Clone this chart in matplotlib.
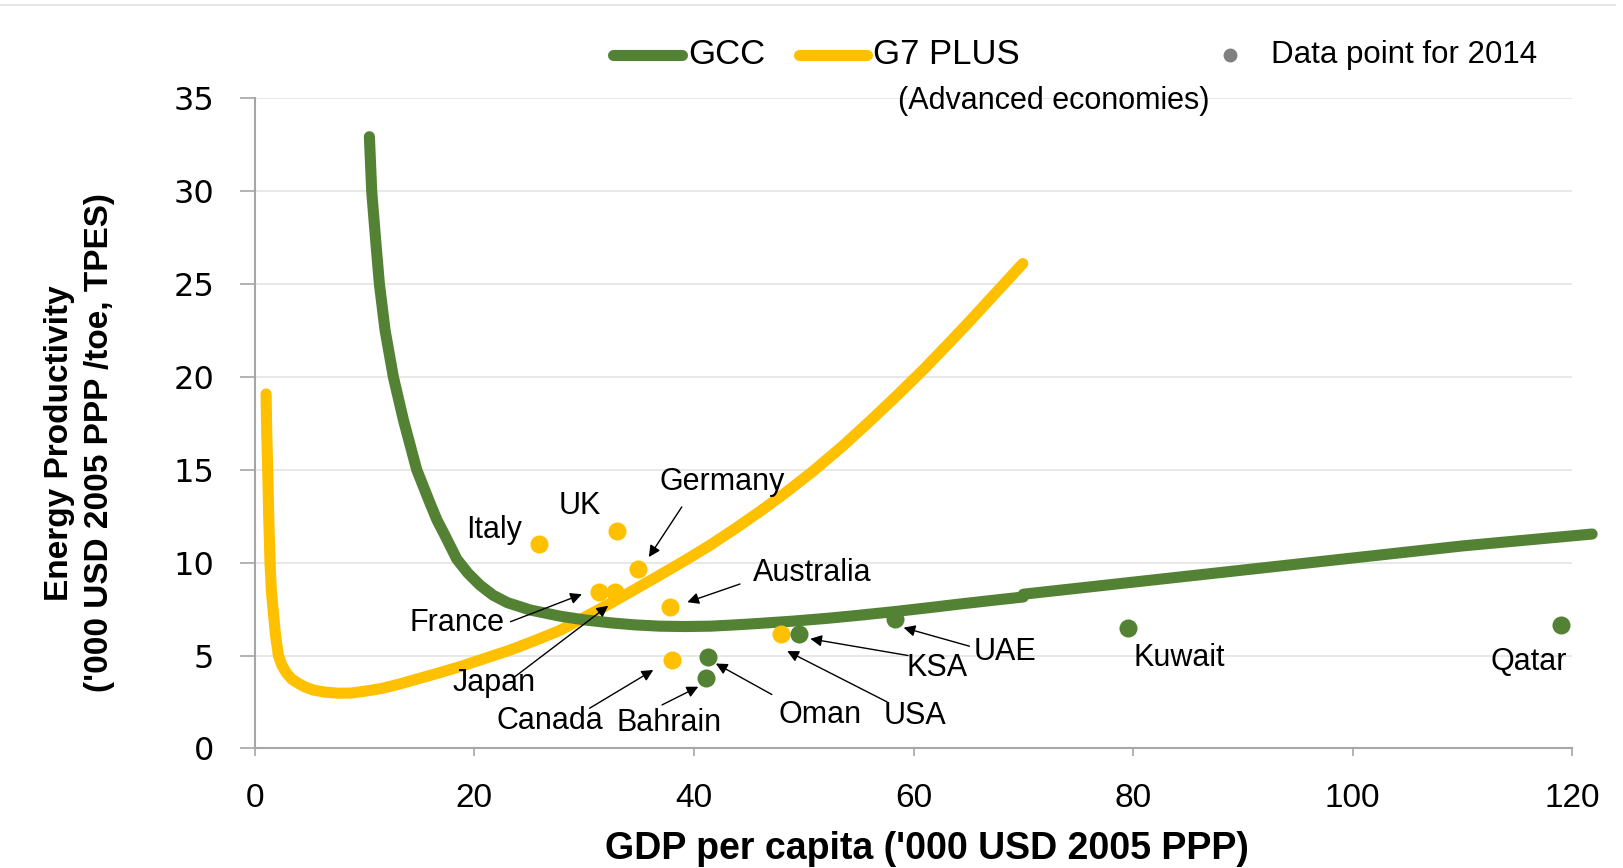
"""
Energy productivity vs GDP per capita, GCC vs G7 PLUS.
"""
import matplotlib
matplotlib.use("Agg")
import matplotlib.pyplot as plt
from matplotlib.lines import Line2D

# fitted curves
g7_curve_x = [1.04, 1.1, 1.19, 1.28, 1.4, 1.52, 1.71, 1.9, 2.16, 2.5, 2.92, 3.4, 3.98,
              4.6, 5.35, 6.4, 7.63, 8.8, 10.05, 11.5, 13.1, 14.6, 16.4, 18.7, 21.0,
              23.3, 25.5, 27.8, 30.0, 32.4, 34.6, 36.9, 39.2, 41.5, 43.8, 46.0, 48.2,
              50.8, 53.5, 56.0, 58.5, 61.0, 63.2, 65.2, 67.3, 69.95]
g7_curve_y = [19.08, 17.0, 15.0, 12.5, 10.0, 8.5, 7.27, 6.1, 5.0, 4.45, 4.04, 3.72, 3.5,
              3.3, 3.14, 3.03, 2.97, 2.98, 3.08, 3.22, 3.45, 3.7, 4.0, 4.4, 4.85,
              5.3, 5.8, 6.35, 7.05, 7.81, 8.55, 9.33, 10.12, 10.95, 11.85, 12.75, 13.7,
              14.9, 16.25, 17.6, 19.0, 20.45, 21.8, 23.05, 24.4, 26.1]

gcc_curve_x = [10.45, 10.66, 11.0, 11.36, 11.88, 12.63, 13.54, 14.76, 15.97, 16.6, 17.3,
               18.4, 19.4, 20.5, 21.7, 23.0, 25.1, 27.8, 30.0, 32.4, 34.6, 36.9, 39.2,
               41.5, 43.8, 46.0, 49.0, 52.1, 55.1, 58.2, 61.2, 64.2, 67.2, 70.0]
gcc_curve_y = [32.93, 30.0, 27.5, 25.0, 22.5, 20.0, 17.7, 15.0, 13.2, 12.3, 11.5,
               10.2, 9.45, 8.8, 8.25, 7.85, 7.45, 7.12, 6.92, 6.76, 6.65, 6.58, 6.56,
               6.58, 6.65, 6.73, 6.85, 7.0, 7.17, 7.36, 7.56, 7.77, 7.97, 8.15]
# extension of the GCC curve beyond 70
gcc_ext_x = [70.0, 80.0, 90.0, 100.0, 110.0, 121.8]
gcc_ext_y = [8.3, 8.95, 9.6, 10.25, 10.9, 11.54]

# 2014 data points
g7_names = ["Italy", "UK", "Germany", "France", "Japan", "Australia", "Canada", "USA"]
g7_gdp = [25.9, 33.0, 34.9, 31.4, 32.8, 37.8, 38.0, 47.9]
g7_prod = [11.0, 11.72, 9.66, 8.44, 8.44, 7.63, 4.76, 6.16]

gcc_names = ["Oman", "Bahrain", "KSA", "UAE", "Kuwait", "Qatar"]
gcc_gdp = [41.3, 41.1, 49.6, 58.3, 79.5, 119.0]
gcc_prod = [4.9, 3.8, 6.16, 6.95, 6.47, 6.63]

# label placement (text centre, arrow tail, arrow head) in data coords
label_pos = {
    "Italy": (21.8, 11.76), "UK": (29.6, 13.04), "Germany": (42.6, 14.32),
    "Australia": (50.8, 9.42), "France": (18.4, 6.74), "Japan": (21.8, 3.51),
    "Canada": (26.9, 1.45), "Bahrain": (37.7, 1.34), "Oman": (51.5, 1.78),
    "USA": (60.1, 1.73), "KSA": (62.1, 4.35), "UAE": (68.35, 5.18),
    "Kuwait": (84.2, 4.85), "Qatar": (116.0, 4.63),
}
arrows = {
    "Germany": ((38.9, 13.0), (35.9, 10.3)),
    "Australia": ((44.2, 8.85), (39.4, 7.87)),
    "France": ((23.3, 6.82), (29.8, 8.3)),
    "Japan": ((23.7, 3.86), (32.2, 7.68)),
    "Canada": ((30.5, 2.16), (36.3, 4.22)),
    "Bahrain": ((37.1, 2.34), (40.4, 3.32)),
    "Oman": ((47.1, 2.9), (42.0, 4.57)),
    "USA": ((57.6, 2.5), (48.5, 5.24)),
    "KSA": ((59.5, 5.0), (50.6, 5.9)),
    "UAE": ((65.1, 5.5), (59.1, 6.5)),
}

GREEN = "#548235"
YELLOW = "#FFC000"
GREY = "#A6A6A6"
SANS = ["Liberation Sans", "DejaVu Sans"]


def plot_chart(out_path):
    fig = plt.figure(figsize=(16.23, 8.68), dpi=100)
    ax = fig.add_axes([0.1569, 0.1378, 0.9688 - 0.1569, 0.8868 - 0.1378])

    line_kw = dict(lw=8, solid_capstyle="round", solid_joinstyle="round", zorder=3)
    ax.plot(g7_curve_x, g7_curve_y, color=YELLOW, **line_kw)
    ax.plot(gcc_curve_x, gcc_curve_y, color=GREEN, **line_kw)
    ax.plot(gcc_ext_x, gcc_ext_y, color=GREEN, clip_on=False, **line_kw)

    ax.plot(g7_gdp, g7_prod, "o", color=YELLOW, ms=13, mec="none", zorder=4)
    ax.plot(gcc_gdp, gcc_prod, "o", color=GREEN, ms=13, mec="none", zorder=4)

    for name, (tx, ty) in label_pos.items():
        ax.text(tx, ty, name, ha="center", va="center", fontsize=22,
                family=SANS, zorder=5)
    for name, (tail, head) in arrows.items():
        ax.annotate("", xy=head, xytext=tail,
                    arrowprops=dict(arrowstyle="-|>", color="black", lw=1.0,
                                    mutation_scale=17, shrinkA=0, shrinkB=0),
                    zorder=5)

    ax.set_xlim(0, 120)
    ax.set_ylim(0, 35)
    ax.set_xticks(range(0, 121, 20))
    ax.set_yticks(range(0, 36, 5))
    ax.grid(axis="y", color="#E6E6E6", lw=1.3)
    ax.set_axisbelow(True)
    for side in ["top", "right"]:
        ax.spines[side].set_visible(False)
    for side in ["left", "bottom"]:
        ax.spines[side].set_color(GREY)
        ax.spines[side].set_linewidth(1.5)
    ax.tick_params(axis="y", length=11, width=1.2, color=GREY, pad=18)
    ax.tick_params(axis="x", length=6, width=1.2, color=GREY, pad=19)
    for lab in ax.get_yticklabels():
        lab.set_fontfamily("DejaVu Sans")
        lab.set_fontsize(23)
    for lab in ax.get_xticklabels():
        lab.set_fontfamily(SANS)
        lab.set_fontsize(24)

    fig.text(0.571, 0.022, "GDP per capita ('000 USD 2005 PPP)", ha="center",
             va="center", fontsize=27, fontweight="bold", family=SANS)
    fig.text(0.049, 0.49, "Energy Productivity\n('000 USD 2005 PPP /toe, TPES)",
             ha="center", va="center", rotation=90, fontsize=24,
             fontweight="bold", family=SANS, linespacing=1.35)

    # legend drawn by hand
    fig.add_artist(Line2D([0.378, 0.420], [0.937, 0.937], color=GREEN, lw=8,
                          solid_capstyle="round", transform=fig.transFigure))
    fig.text(0.424, 0.937, "GCC", ha="left", va="center", fontsize=25, family=SANS)
    fig.add_artist(Line2D([0.492, 0.534], [0.937, 0.937], color=YELLOW, lw=8,
                          solid_capstyle="round", transform=fig.transFigure))
    fig.text(0.538, 0.937, "G7 PLUS", ha="left", va="center", fontsize=25, family=SANS)
    fig.text(0.649, 0.884, "(Advanced economies)", ha="center", va="center",
             fontsize=22, family=SANS)
    fig.add_artist(Line2D([0.758], [0.937], marker="o", ms=10, color="#808080",
                          mec="none", transform=fig.transFigure))
    fig.text(0.783, 0.937, "Data point for 2014", ha="left", va="center",
             fontsize=22.5, family=SANS)
    fig.add_artist(Line2D([0.0, 0.995], [0.994, 0.994], color="#E0E0E0", lw=1.2,
                          transform=fig.transFigure))

    fig.savefig(out_path, dpi=100)


if __name__ == "__main__":
    plot_chart("out.png")
